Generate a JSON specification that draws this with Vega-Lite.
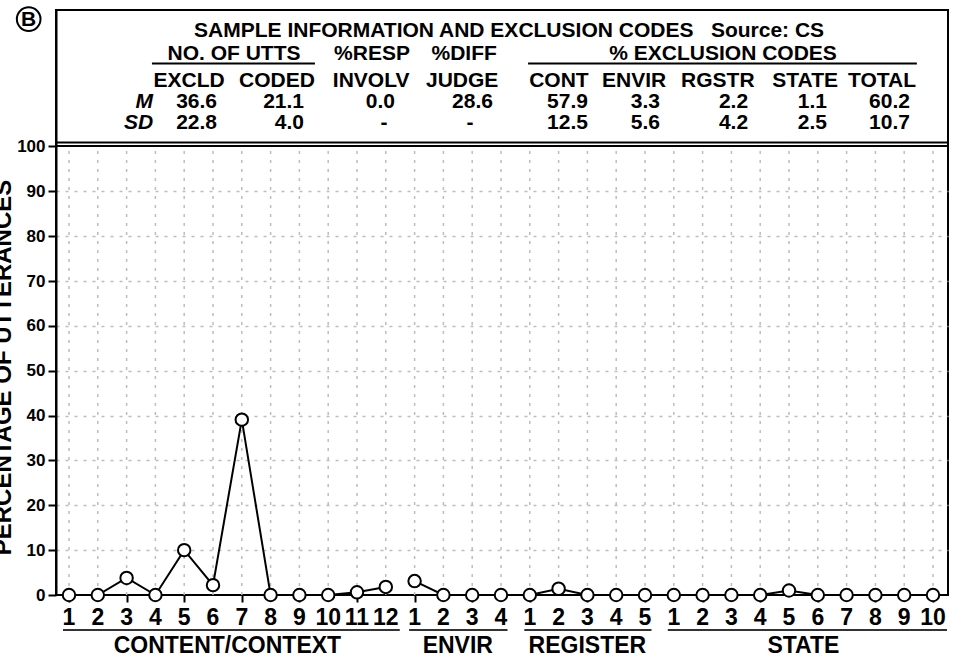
{
  "$schema": "https://vega.github.io/schema/vega-lite/v6.json",
  "autosize": {"type": "none"},
  "padding": {"left": 56, "top": 10, "right": 15, "bottom": 66},
  "width": 892,
  "height": 585,
  "background": "white",
  "config": {
    "view": {"stroke": "black", "strokeWidth": 2},
    "font": "Liberation Sans",
    "text": {"font": "Liberation Sans", "fontWeight": "bold", "fontSize": 21, "baseline": "alphabetic", "color": "black"}
  },
  "datasets": {
    "points": [
      {"group": "CONTENT/CONTEXT", "code": 1, "idx": 0, "value": 0},
      {"group": "CONTENT/CONTEXT", "code": 2, "idx": 1, "value": 0},
      {"group": "CONTENT/CONTEXT", "code": 3, "idx": 2, "value": 3.8},
      {"group": "CONTENT/CONTEXT", "code": 4, "idx": 3, "value": 0},
      {"group": "CONTENT/CONTEXT", "code": 5, "idx": 4, "value": 10.0},
      {"group": "CONTENT/CONTEXT", "code": 6, "idx": 5, "value": 2.2},
      {"group": "CONTENT/CONTEXT", "code": 7, "idx": 6, "value": 39.1},
      {"group": "CONTENT/CONTEXT", "code": 8, "idx": 7, "value": 0},
      {"group": "CONTENT/CONTEXT", "code": 9, "idx": 8, "value": 0},
      {"group": "CONTENT/CONTEXT", "code": 10, "idx": 9, "value": 0},
      {"group": "CONTENT/CONTEXT", "code": 11, "idx": 10, "value": 0.6},
      {"group": "CONTENT/CONTEXT", "code": 12, "idx": 11, "value": 1.8},
      {"group": "ENVIR", "code": 1, "idx": 12, "value": 3.1},
      {"group": "ENVIR", "code": 2, "idx": 13, "value": 0},
      {"group": "ENVIR", "code": 3, "idx": 14, "value": 0},
      {"group": "ENVIR", "code": 4, "idx": 15, "value": 0},
      {"group": "REGISTER", "code": 1, "idx": 16, "value": 0},
      {"group": "REGISTER", "code": 2, "idx": 17, "value": 1.4},
      {"group": "REGISTER", "code": 3, "idx": 18, "value": 0},
      {"group": "REGISTER", "code": 4, "idx": 19, "value": 0},
      {"group": "REGISTER", "code": 5, "idx": 20, "value": 0},
      {"group": "STATE", "code": 1, "idx": 21, "value": 0},
      {"group": "STATE", "code": 2, "idx": 22, "value": 0},
      {"group": "STATE", "code": 3, "idx": 23, "value": 0},
      {"group": "STATE", "code": 4, "idx": 24, "value": 0},
      {"group": "STATE", "code": 5, "idx": 25, "value": 1.0},
      {"group": "STATE", "code": 6, "idx": 26, "value": 0},
      {"group": "STATE", "code": 7, "idx": 27, "value": 0},
      {"group": "STATE", "code": 8, "idx": 28, "value": 0},
      {"group": "STATE", "code": 9, "idx": 29, "value": 0},
      {"group": "STATE", "code": 10, "idx": 30, "value": 0}
    ],
    "stats": [
      {"col": "EXCLD", "M": "36.6", "SD": "22.8"},
      {"col": "CODED", "M": "21.1", "SD": "4.0"},
      {"col": "INVOLV", "M": "0.0", "SD": "-"},
      {"col": "JUDGE", "M": "28.6", "SD": "-"},
      {"col": "CONT", "M": "57.9", "SD": "12.5"},
      {"col": "ENVIR", "M": "3.3", "SD": "5.6"},
      {"col": "RGSTR", "M": "2.2", "SD": "4.2"},
      {"col": "STATE", "M": "1.1", "SD": "2.5"},
      {"col": "TOTAL", "M": "60.2", "SD": "10.7"}
    ]
  },
  "data": {"name": "points"},
  "layer": [
    {
      "mark": {"type": "rule", "color": "#bdbdbd", "strokeWidth": 1.5, "strokeDash": [3, 6]},
      "encoding": {
        "x": {"field": "idx", "type": "quantitative"},
        "y": {"datum": 0},
        "y2": {"datum": 100}
      }
    },
    {
      "mark": {"type": "line", "color": "black", "strokeWidth": 2},
      "encoding": {
        "x": {
          "field": "idx", "type": "quantitative",
          "scale": {"domain": [-0.4514, 30.5208], "nice": false, "zero": false},
          "axis": {
            "values": [0,1,2,3,4,5,6,7,8,9,10,11,12,13,14,15,16,17,18,19,20,21,22,23,24,25,26,27,28,29,30],
            "tickSize": 7, "tickWidth": 2, "tickColor": "black",
            "labels": false, "domain": false, "grid": false, "title": null
          }
        },
        "y": {
          "field": "value", "type": "quantitative",
          "scale": {"domain": [0, 130.43], "nice": false, "zero": false},
          "axis": {
            "values": [0,5,10,15,20,25,30,35,40,45,50,55,60,65,70,75,80,85,90,95,100],
            "tickSize": {"condition": {"test": "datum.value % 10 != 0", "value": 5}, "value": 8},
            "tickWidth": 2, "tickColor": "black",
            "domain": true, "domainColor": "black", "domainWidth": 2,
            "labelExpr": "datum.value % 10 == 0 ? datum.label : ''",
            "labelOverlap": false,
            "labelFont": "Liberation Sans", "labelFontSize": 17, "labelFontWeight": "bold", "labelColor": "black", "labelPadding": 3,
            "grid": true, "gridColor": "#bdbdbd", "gridDash": [3, 6], "gridWidth": 1.5,
            "gridOpacity": {"condition": {"test": "datum.value % 10 != 0 || datum.value == 0 || datum.value == 100", "value": 0}, "value": 1},
            "title": "PERCENTAGE OF UTTERANCES",
            "titleFont": "Liberation Sans", "titleFontSize": 24, "titleFontWeight": "bold", "titleColor": "black",
            "titleX": -46, "titleY": 357, "titleAngle": -90, "titleAlign": "center", "titleBaseline": "alphabetic"
          }
        },
        "detail": {"field": "group"}
      }
    },
    {
      "mark": {"type": "point", "shape": "circle", "filled": true, "fill": "white", "stroke": "black", "strokeWidth": 2, "size": 155, "opacity": 1},
      "encoding": {
        "x": {"field": "idx", "type": "quantitative"},
        "y": {"field": "value", "type": "quantitative"}
      }
    },
    {
      "mark": {"type": "text", "align": "center", "fontSize": 23},
      "encoding": {
        "x": {"field": "idx", "type": "quantitative"},
        "y": {"datum": -6.69},
        "text": {"field": "code", "type": "nominal"}
      }
    },
    {
      "transform": [{"filter": "datum.group == 'ENVIR' || datum.group == 'REGISTER'"}],
      "mark": {"type": "rule", "color": "#333333", "strokeWidth": 2, "xOffset": -5.5, "x2Offset": 6.5},
      "encoding": {
        "x": {"aggregate": "min", "field": "idx", "type": "quantitative"},
        "x2": {"aggregate": "max", "field": "idx"},
        "y": {"datum": -7.8},
        "detail": {"field": "group"}
      }
    },
    {
      "transform": [{"filter": "datum.group == 'CONTENT/CONTEXT' || datum.group == 'STATE'"}],
      "mark": {"type": "rule", "color": "#333333", "strokeWidth": 2, "xOffset": -6, "x2Offset": 14},
      "encoding": {
        "x": {"aggregate": "min", "field": "idx", "type": "quantitative"},
        "x2": {"aggregate": "max", "field": "idx"},
        "y": {"datum": -7.8},
        "detail": {"field": "group"}
      }
    },
    {
      "mark": {"type": "text", "align": "center", "fontSize": 23},
      "encoding": {
        "x": {"aggregate": "mean", "field": "idx", "type": "quantitative"},
        "y": {"datum": -12.93},
        "text": {"field": "group", "type": "nominal"}
      }
    },
    {
      "data": {"values": [{}]},
      "mark": {"type": "rule", "color": "black", "strokeWidth": 2},
      "encoding": {"y": {"datum": 100.1}}
    },
    {
      "data": {"values": [{}]},
      "mark": {"type": "rule", "color": "black", "strokeWidth": 2},
      "encoding": {"y": {"datum": 100.9}}
    },
    {
      "data": {"values": [{}]},
      "mark": {"type": "point", "shape": "circle", "filled": false, "stroke": "black", "strokeWidth": 2, "size": 560, "opacity": 1},
      "encoding": {"x": {"datum": -1.4}, "y": {"datum": 128.4}}
    },
    {
      "data": {"values": [{}]},
      "mark": {"type": "text", "align": "center", "baseline": "middle", "fontSize": 21, "text": "B"},
      "encoding": {"x": {"datum": -1.4}, "y": {"datum": 128.3}}
    },
    {
      "data": {"values": [{}]},
      "mark": {"type": "text", "align": "center", "text": "SAMPLE INFORMATION AND EXCLUSION CODES\u00a0\u00a0\u00a0Source: CS"},
      "encoding": {"x": {"datum": 15.28}, "y": {"datum": 124.41}}
    },
    {
      "data": {"values": [{}]},
      "mark": {"type": "text", "align": "center", "text": "NO. OF UTTS"},
      "encoding": {"x": {"datum": 5.73}, "y": {"datum": 119.29}}
    },
    {
      "data": {"values": [{}]},
      "mark": {"type": "text", "align": "center", "text": "%RESP"},
      "encoding": {"x": {"datum": 10.52}, "y": {"datum": 119.29}}
    },
    {
      "data": {"values": [{}]},
      "mark": {"type": "text", "align": "center", "text": "%DIFF"},
      "encoding": {"x": {"datum": 13.72}, "y": {"datum": 119.29}}
    },
    {
      "data": {"values": [{}]},
      "mark": {"type": "text", "align": "center", "text": "% EXCLUSION CODES"},
      "encoding": {"x": {"datum": 22.71}, "y": {"datum": 119.29}}
    },
    {
      "data": {"values": [{}]},
      "mark": {"type": "rule", "color": "black", "strokeWidth": 2},
      "encoding": {"x": {"datum": 2.88}, "x2": {"datum": 8.54}, "y": {"datum": 118.51}}
    },
    {
      "data": {"values": [{}]},
      "mark": {"type": "rule", "color": "black", "strokeWidth": 2},
      "encoding": {"x": {"datum": 15.94}, "x2": {"datum": 29.44}, "y": {"datum": 118.51}}
    },
    {
      "data": {"values": [{}]},
      "mark": {"type": "text", "align": "right", "fontStyle": "italic", "text": "M"},
      "encoding": {"x": {"datum": 2.92}, "y": {"datum": 108.58}}
    },
    {
      "data": {"values": [{}]},
      "mark": {"type": "text", "align": "right", "fontStyle": "italic", "text": "SD"},
      "encoding": {"x": {"datum": 2.92}, "y": {"datum": 103.9}}
    },
    {
      "data": {"name": "stats"},
      "transform": [{"filter": "datum.col == 'EXCLD'"}],
      "layer": [
        {"mark": {"type": "text", "align": "center"}, "encoding": {"x": {"datum": 4.17}, "y": {"datum": 113.27}, "text": {"field": "col"}}},
        {"mark": {"type": "text", "align": "right"}, "encoding": {"x": {"datum": 5.14}, "y": {"datum": 108.58}, "text": {"field": "M"}}},
        {"mark": {"type": "text", "align": "right"}, "encoding": {"x": {"datum": 5.14}, "y": {"datum": 103.9}, "text": {"field": "SD"}}}
      ]
    },
    {
      "data": {"name": "stats"},
      "transform": [{"filter": "datum.col == 'CODED'"}],
      "layer": [
        {"mark": {"type": "text", "align": "center"}, "encoding": {"x": {"datum": 7.22}, "y": {"datum": 113.27}, "text": {"field": "col"}}},
        {"mark": {"type": "text", "align": "right"}, "encoding": {"x": {"datum": 8.16}, "y": {"datum": 108.58}, "text": {"field": "M"}}},
        {"mark": {"type": "text", "align": "right"}, "encoding": {"x": {"datum": 8.16}, "y": {"datum": 103.9}, "text": {"field": "SD"}}}
      ]
    },
    {
      "data": {"name": "stats"},
      "transform": [{"filter": "datum.col == 'INVOLV'"}],
      "layer": [
        {"mark": {"type": "text", "align": "center"}, "encoding": {"x": {"datum": 10.49}, "y": {"datum": 113.27}, "text": {"field": "col"}}},
        {"mark": {"type": "text", "align": "right"}, "encoding": {"x": {"datum": 11.32}, "y": {"datum": 108.58}, "text": {"field": "M"}}},
        {"mark": {"type": "text", "align": "center"}, "encoding": {"x": {"datum": 10.94}, "y": {"datum": 103.9}, "text": {"field": "SD"}}}
      ]
    },
    {
      "data": {"name": "stats"},
      "transform": [{"filter": "datum.col == 'JUDGE'"}],
      "layer": [
        {"mark": {"type": "text", "align": "center"}, "encoding": {"x": {"datum": 13.65}, "y": {"datum": 113.27}, "text": {"field": "col"}}},
        {"mark": {"type": "text", "align": "right"}, "encoding": {"x": {"datum": 14.72}, "y": {"datum": 108.58}, "text": {"field": "M"}}},
        {"mark": {"type": "text", "align": "center"}, "encoding": {"x": {"datum": 13.92}, "y": {"datum": 103.9}, "text": {"field": "SD"}}}
      ]
    },
    {
      "data": {"name": "stats"},
      "transform": [{"filter": "datum.col == 'CONT'"}],
      "layer": [
        {"mark": {"type": "text", "align": "center"}, "encoding": {"x": {"datum": 17.01}, "y": {"datum": 113.27}, "text": {"field": "col"}}},
        {"mark": {"type": "text", "align": "right"}, "encoding": {"x": {"datum": 18.02}, "y": {"datum": 108.58}, "text": {"field": "M"}}},
        {"mark": {"type": "text", "align": "right"}, "encoding": {"x": {"datum": 18.02}, "y": {"datum": 103.9}, "text": {"field": "SD"}}}
      ]
    },
    {
      "data": {"name": "stats"},
      "transform": [{"filter": "datum.col == 'ENVIR'"}],
      "layer": [
        {"mark": {"type": "text", "align": "center"}, "encoding": {"x": {"datum": 19.62}, "y": {"datum": 113.27}, "text": {"field": "col"}}},
        {"mark": {"type": "text", "align": "right"}, "encoding": {"x": {"datum": 20.52}, "y": {"datum": 108.58}, "text": {"field": "M"}}},
        {"mark": {"type": "text", "align": "right"}, "encoding": {"x": {"datum": 20.52}, "y": {"datum": 103.9}, "text": {"field": "SD"}}}
      ]
    },
    {
      "data": {"name": "stats"},
      "transform": [{"filter": "datum.col == 'RGSTR'"}],
      "layer": [
        {"mark": {"type": "text", "align": "center"}, "encoding": {"x": {"datum": 22.53}, "y": {"datum": 113.27}, "text": {"field": "col"}}},
        {"mark": {"type": "text", "align": "right"}, "encoding": {"x": {"datum": 23.58}, "y": {"datum": 108.58}, "text": {"field": "M"}}},
        {"mark": {"type": "text", "align": "right"}, "encoding": {"x": {"datum": 23.58}, "y": {"datum": 103.9}, "text": {"field": "SD"}}}
      ]
    },
    {
      "data": {"name": "stats"},
      "transform": [{"filter": "datum.col == 'STATE'"}],
      "layer": [
        {"mark": {"type": "text", "align": "center"}, "encoding": {"x": {"datum": 25.56}, "y": {"datum": 113.27}, "text": {"field": "col"}}},
        {"mark": {"type": "text", "align": "right"}, "encoding": {"x": {"datum": 26.32}, "y": {"datum": 108.58}, "text": {"field": "M"}}},
        {"mark": {"type": "text", "align": "right"}, "encoding": {"x": {"datum": 26.32}, "y": {"datum": 103.9}, "text": {"field": "SD"}}}
      ]
    },
    {
      "data": {"name": "stats"},
      "transform": [{"filter": "datum.col == 'TOTAL'"}],
      "layer": [
        {"mark": {"type": "text", "align": "center"}, "encoding": {"x": {"datum": 28.23}, "y": {"datum": 113.27}, "text": {"field": "col"}}},
        {"mark": {"type": "text", "align": "right"}, "encoding": {"x": {"datum": 29.2}, "y": {"datum": 108.58}, "text": {"field": "M"}}},
        {"mark": {"type": "text", "align": "right"}, "encoding": {"x": {"datum": 29.2}, "y": {"datum": 103.9}, "text": {"field": "SD"}}}
      ]
    }
  ]
}
